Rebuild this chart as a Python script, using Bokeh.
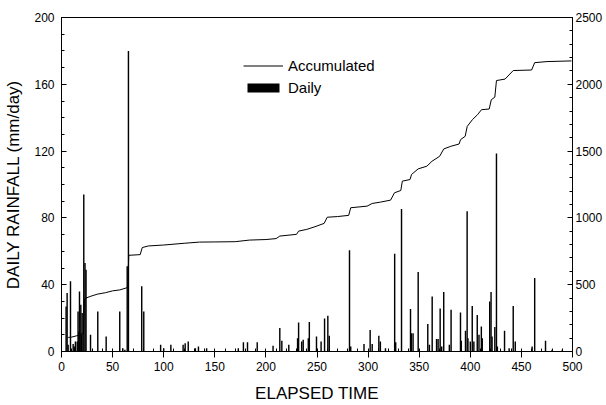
from bokeh.plotting import figure
from bokeh.models import (Range1d, LinearAxis, FixedTicker, Legend, LegendItem,
                          ColumnDataSource)
from bokeh.embed import file_html
from bokeh.resources import INLINE

# ---- data ----
daily_day = [4.5, 5.5, 6.5, 8.8, 11.4, 12.5, 13.6, 15.4, 16.2, 17.0, 17.6, 18.9, 19.5,
             20.2, 21.8, 23.0, 24.0, 28.4, 35.5, 43.7, 57.0, 60.0, 62.0, 64.3, 65.5,
             78.5, 80.5, 97.0, 100.0, 107.0, 119.0, 121.0, 124.0, 131.0, 134.0, 142.0,
             173.0, 178.0, 182.0, 191.5, 207.0, 213.6, 215.6, 222.4, 231.0, 232.0,
             235.0, 236.5, 241.5, 242.5, 249.5, 254.0, 257.4, 260.6, 262.0, 281.8,
             283.0, 296.0, 302.0, 304.0, 310.5, 312.0, 317.0, 326.0, 327.0, 332.7,
             341.5, 342.3, 344.0, 349.0, 358.4, 360.0, 362.7, 367.0, 368.5, 370.5,
             372.0, 374.0, 379.5, 381.2, 390.4, 391.2, 395.3, 396.9, 397.7, 400.0,
             401.9, 403.5, 406.8, 408.5, 410.8, 411.7, 419.0, 420.3, 421.3, 424.0,
             425.6, 426.5, 433.5, 438.0, 442.0, 444.0, 460.5, 463.0, 473.6, 480.0,
             490.0]
daily_mm = [27, 35, 4, 42, 4.5, 3, 6, 6, 24, 12, 36, 28, 10,
            23, 94, 53, 49, 10, 24, 9, 24, 2, 1, 51, 180,
            39, 24, 4, 2, 4, 4, 5, 6, 2, 3, 2,
            2, 5.5, 5.5, 5.5, 3.5, 14, 6.5, 4, 8, 17.4,
            6, 7, 8, 17.6, 9, 6, 19.8, 21.4, 9.4, 60.6,
            3, 4.5, 12.8, 4.5, 9.4, 6, 2, 58.5, 5.6, 85.4,
            25.4, 11, 11, 47.6, 16.4, 4, 33, 7.5, 7.5, 25.8,
            3, 35.7, 4, 25, 23.4, 6.5, 12.4, 84, 8, 6,
            27.3, 6, 21.8, 10, 15, 8, 30, 35.7, 9, 14.6,
            118.5, 3, 12.4, 2, 27.3, 6, 3, 44, 6.4, 1,
            1]

acc_day = [6, 7, 10, 15, 19, 21.5, 22.5, 24, 28, 35, 43, 50, 57, 64.8, 65.8, 77, 79,
           85, 100, 120, 135, 150, 170, 184, 200, 210, 213.6, 230, 232, 240, 248, 257,
           260, 270, 281, 283, 299, 304, 312, 322, 325.8, 332, 333.5, 341, 342.5, 349,
           357.5, 362.5, 370, 374, 381, 389, 390.5, 395, 397, 402, 407, 411, 418.5,
           420.5, 424, 425.6, 434, 442, 460, 463, 475, 499]
acc_mm = [100, 106, 108, 118, 130, 135, 392, 400, 412, 429, 440, 454, 461, 479, 720,
          725, 778, 790, 797, 810, 819, 820, 822, 834, 838, 845, 864, 877, 901, 914,
          934, 959, 1005, 1010, 1019, 1076, 1088, 1108, 1118, 1133, 1188, 1205, 1275,
          1287, 1325, 1367, 1387, 1424, 1461, 1516, 1536, 1553, 1586, 1611, 1685, 1735,
          1772, 1810, 1815, 1884, 1904, 2028, 2039, 2103, 2107, 2162, 2170, 2175]

x_ticks = [0, 50, 100, 150, 200, 250, 300, 350, 400, 450, 500]
x_minor = [d for d in range(0, 501, 10)]
left_ticks = [0, 40, 80, 120, 160, 200]
left_minor = [v for v in range(0, 201, 10)]
right_ticks = [0, 500, 1000, 1500, 2000, 2500]
right_minor = [v for v in range(0, 2501, 100)]

FONT = "Liberation Sans"

p = figure(width=606, height=405, output_backend="svg", toolbar_location=None,
           x_range=Range1d(0, 500), y_range=Range1d(0, 200),
           min_border_left=61, min_border_right=34, min_border_top=17,
           min_border_bottom=53)
p.extra_y_ranges = {"acc": Range1d(0, 2500)}
p.grid.visible = False
p.outline_line_color = "black"
p.outline_line_width = 1
p.background_fill_color = "white"
p.border_fill_color = "white"

bars = p.vbar(x="x", top="top", width=1.4, bottom=0,
              source=ColumnDataSource(dict(x=daily_day, top=daily_mm)),
              fill_color="black", line_color=None)
acc = p.line(x="x", y="y", source=ColumnDataSource(dict(x=acc_day, y=acc_mm)),
             y_range_name="acc", line_color="black", line_width=1)

# bottom axis
xa = p.xaxis[0]
xa.ticker = FixedTicker(ticks=x_ticks, minor_ticks=x_minor)
xa.axis_label = "ELAPSED TIME"
xa.major_tick_in = 0
xa.major_tick_out = 6
xa.minor_tick_in = 3
xa.minor_tick_out = 0
xa.major_label_standoff = 4
xa.axis_label_standoff = 10

# left axis
ya = p.yaxis[0]
ya.ticker = FixedTicker(ticks=left_ticks, minor_ticks=left_minor)
ya.axis_label = "DAILY RAINFALL (mm/day)"
ya.major_tick_in = 5
ya.major_tick_out = 0
ya.minor_tick_in = 3
ya.minor_tick_out = 0
ya.major_label_standoff = 7
ya.axis_label_standoff = 8

# right axis
ra = LinearAxis(y_range_name="acc", ticker=FixedTicker(ticks=right_ticks, minor_ticks=right_minor))
ra.major_tick_in = 5
ra.major_tick_out = 0
ra.minor_tick_in = 3
ra.minor_tick_out = 0
ra.major_label_standoff = 3
p.add_layout(ra, "right")

for ax in [xa, ya, ra]:
    ax.axis_line_color = "black"
    ax.major_tick_line_color = "black"
    ax.minor_tick_line_color = "black"
    ax.major_label_text_font = FONT
    ax.major_label_text_font_size = "12px"
    ax.major_label_text_color = "black"
    ax.axis_label_text_font = FONT
    ax.axis_label_text_font_size = "17px"
    ax.axis_label_text_font_style = "normal"
    ax.axis_label_text_color = "black"

legend = Legend(items=[LegendItem(label="Accumulated", renderers=[acc]),
                       LegendItem(label="Daily", renderers=[bars])],
                location=(182, 254), padding=0, spacing=2, margin=0,
                label_height=20, glyph_height=11, glyph_width=40, label_standoff=5,
                label_text_font=FONT, label_text_font_size="15px",
                label_text_color="black", border_line_color=None,
                background_fill_alpha=0)
p.add_layout(legend)

open("out.html", "w").write(file_html(p, INLINE))
